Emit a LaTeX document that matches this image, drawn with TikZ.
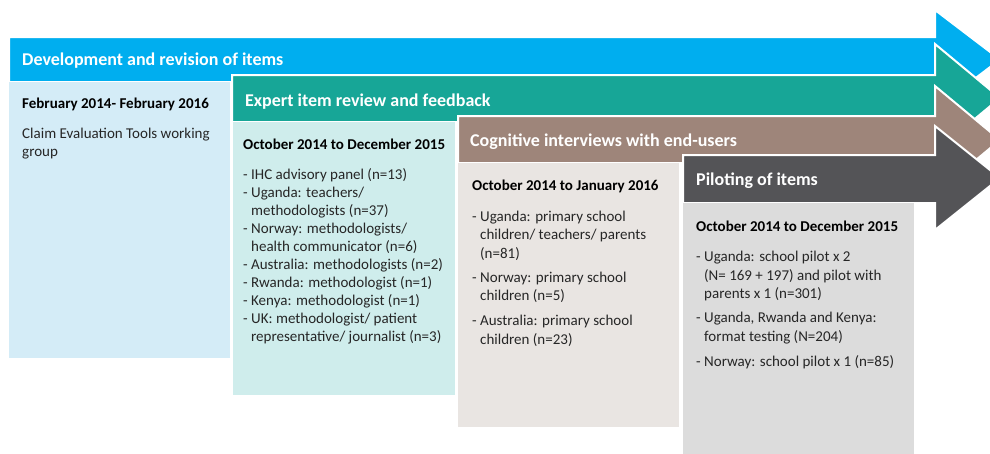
\documentclass[tikz,border=0pt]{standalone}
\usepackage{fontspec}
\setmainfont{Carlito}

% phase colours
\definecolor{devblue}{HTML}{00AEEF}
\definecolor{devbody}{HTML}{D4ECF7}
\definecolor{expteal}{HTML}{17A697}
\definecolor{expbody}{HTML}{CFEDEC}
\definecolor{cogbrown}{HTML}{9E857A}
\definecolor{cogbody}{HTML}{E9E5E2}
\definecolor{pilgrey}{HTML}{545457}
\definecolor{pilbody}{HTML}{DCDCDC}
\definecolor{itemtext}{HTML}{262626}

% block arrow of one phase:
% #1 fill, #2 left x, #3 bar top, #4 bar bottom, #5 head top, #6 head bottom
\newcommand\stagearrow[6]{%
  \fill[#1, draw=white, line width=2pt, line join=miter]
    (#2,#3) -- (935,#3) -- (935,#5) -- (1000,{(#5+#6)/2}) -- (935,#6)
    -- (935,#4) -- (#2,#4) -- cycle;}

\tikzset{
  hdr/.style={anchor=base west, inner sep=0pt, text=white,
    font=\fontsize{18}{20}\selectfont\bfseries},
  datehdr/.style={anchor=base west, inner sep=0pt, text=black,
    font=\fontsize{15}{18}\selectfont\bfseries},
  itemline/.style={anchor=base west, inner sep=0pt, text=itemtext,
    font=\fontsize{15}{18}\selectfont},
}

\newcommand\cont{\hphantom{- }}

\begin{document}
\begin{tikzpicture}[x=1pt, y=-1pt]
\useasboundingbox (0,0) rectangle (990,453);
\clip (0,0) rectangle (990,453);

% ---- Development and revision of items
\stagearrow{devblue}{9}{37}{82}{10}{109}
\fill[devbody] (9,82) rectangle (230,358);
\node[hdr] (h1) at (22,65) {Development and revision of items};
\node[datehdr] (d1) at (22,108) {February 2014- February 2016};
\node[itemline] (b1a) at (22,138) {Claim Evaluation Tools working};
\node[itemline] (b1b) at (22,156) {group};

% ---- Expert item review and feedback
\stagearrow{expteal}{232}{75}{122}{44}{152}
\fill[expbody] (233,122) rectangle (455,395);
\node[hdr] (h2) at (245,106) {Expert item review and feedback};
\node[datehdr] (d2) at (243,149) {October 2014 to December 2015};
\node[itemline] (b2a) at (243,179) {- IHC advisory panel (n=13)};
\node[itemline] (b2b) at (243,197) {- Uganda: teachers/};
\node[itemline] (b2c) at (243,215) {\cont methodologists (n=37)};
\node[itemline] (b2d) at (243,233) {- Norway: methodologists/};
\node[itemline] (b2e) at (243,251) {\cont health communicator (n=6)};
\node[itemline] (b2f) at (243,269) {- Australia: methodologists (n=2)};
\node[itemline] (b2g) at (243,287) {- Rwanda: methodologist (n=1)};
\node[itemline] (b2h) at (243,305) {- Kenya: methodologist (n=1)};
\node[itemline] (b2i) at (243,323) {- UK: methodologist/ patient};
\node[itemline] (b2j) at (243,341) {\cont representative/ journalist (n=3)};

% ---- Cognitive interviews with end-users
\stagearrow{cogbrown}{458}{116}{163}{86}{194}
\fill[cogbody] (458,163) rectangle (679,427);
\node[hdr] (h3) at (470,146) {Cognitive interviews with end-users};
\node[datehdr] (d3) at (472,190) {October 2014 to January 2016};
\node[itemline] (b3a) at (472,221) {- Uganda: primary school};
\node[itemline] (b3b) at (472,239.5) {\cont children/ teachers/ parents};
\node[itemline] (b3c) at (472,258) {\cont (n=81)};
\node[itemline] (b3d) at (472,282) {- Norway: primary school};
\node[itemline] (b3e) at (472,300.5) {\cont children (n=5)};
\node[itemline] (b3f) at (472,325) {- Australia: primary school};
\node[itemline] (b3g) at (472,344) {\cont children (n=23)};

% ---- Piloting of items
\stagearrow{pilgrey}{683}{155}{203}{126}{230}
\fill[pilbody] (683,203) rectangle (914,460);
\node[hdr] (h4) at (696,185) {Piloting of items};
\node[datehdr] (d4) at (696,231) {October 2014 to December 2015};
\node[itemline] (b4a) at (696,261.5) {- Uganda: school pilot x 2};
\node[itemline] (b4b) at (696,280) {\cont (N= 169 + 197) and pilot with};
\node[itemline] (b4c) at (696,298) {\cont parents x 1 (n=301)};
\node[itemline] (b4d) at (696,322) {- Uganda, Rwanda and Kenya:};
\node[itemline] (b4e) at (696,341) {\cont format testing (N=204)};
\node[itemline] (b4f) at (696,366) {- Norway: school pilot x 1 (n=85)};
\end{tikzpicture}
\end{document}
